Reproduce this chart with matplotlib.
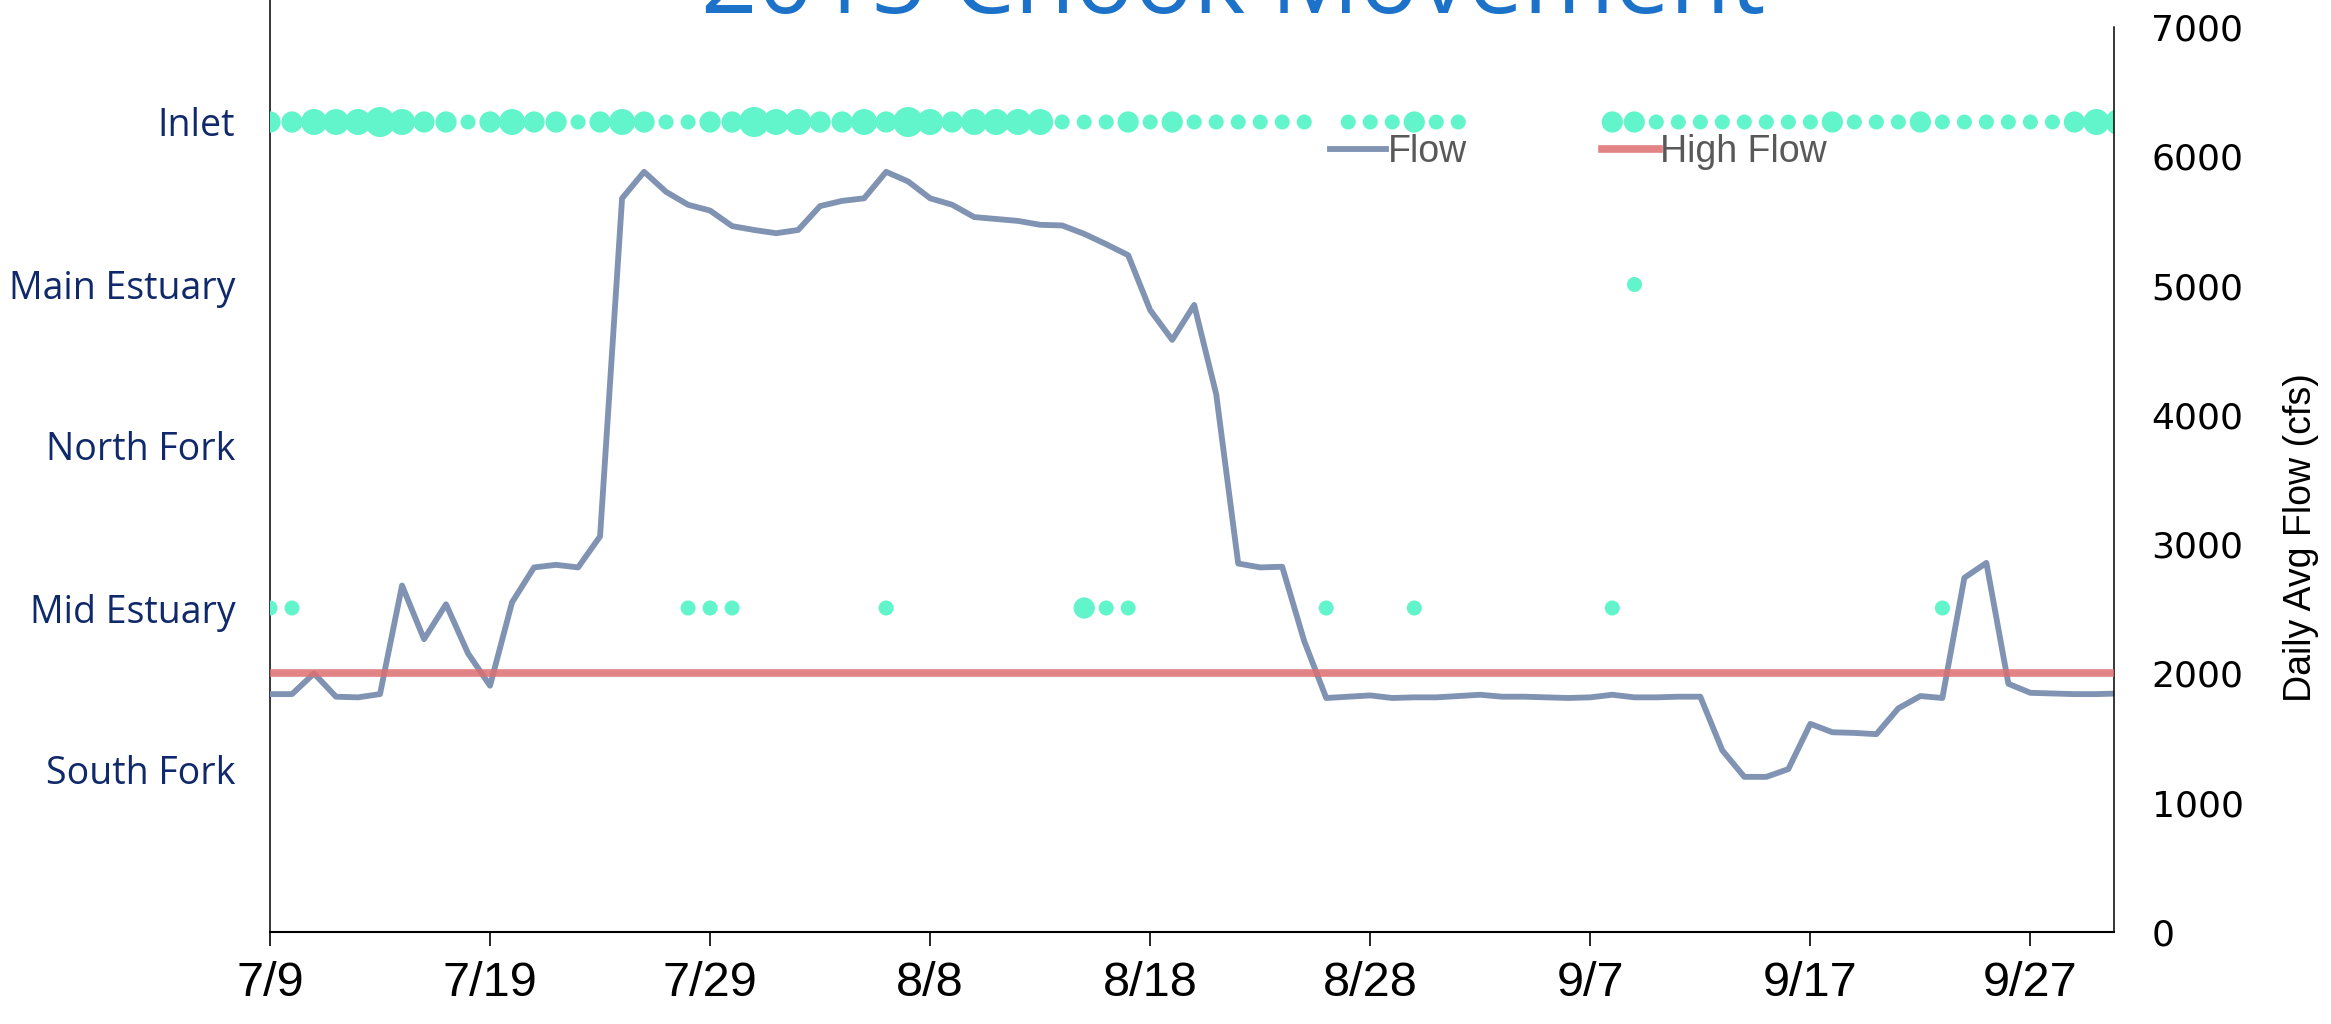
import matplotlib
matplotlib.use("Agg")
from matplotlib import pyplot as plt
import numpy as np

# daily average flow (cfs), one value per day starting 7/9
flow = [1840, 1840, 2000, 1820, 1815, 1840, 2680, 2265, 2535, 2155,
        1905, 2550, 2820, 2840, 2820, 3060, 5675, 5880, 5725, 5625,
        5580, 5460, 5430, 5405, 5430, 5615, 5655, 5675, 5880, 5805,
        5675, 5625, 5530, 5515, 5500, 5470, 5465, 5400, 5320, 5235,
        4810, 4580, 4850, 4160, 2850, 2820, 2825, 2250, 1810, 1820,
        1830, 1810, 1815, 1815, 1825, 1835, 1820, 1820, 1815, 1810,
        1815, 1835, 1815, 1815, 1820, 1820, 1405, 1200, 1200, 1260,
        1610, 1545, 1540, 1530, 1730, 1825, 1810, 2740, 2855, 1920,
        1850, 1845, 1840, 1840, 1845]
high_flow = 2000

# fish detected per day at each location
inlet_counts = [2, 2, 3, 3, 3, 4, 3, 2, 2, 1,
                2, 3, 2, 2, 1, 2, 3, 2, 1, 1,
                2, 2, 4, 3, 3, 2, 2, 3, 2, 4,
                3, 2, 3, 3, 3, 3, 1, 1, 1, 2,
                1, 2, 1, 1, 1, 1, 1, 1, 0, 1,
                1, 1, 2, 1, 1, 0, 0, 0, 0, 0,
                0, 2, 2, 1, 1, 1, 1, 1, 1, 1,
                1, 2, 1, 1, 1, 2, 1, 1, 1, 1,
                1, 1, 2, 3, 3]
main_days = [62]
main_counts = [1]
mid_days = [0, 1, 19, 20, 21, 28, 37, 38, 39, 48, 52, 61, 76]
mid_counts = [1, 1, 1, 1, 1, 1, 2, 1, 1, 1, 1, 1, 1]

locations = ["South Fork", "Mid Estuary", "North Fork", "Main Estuary", "Inlet"]
tick_days = [0, 10, 20, 30, 40, 50, 60, 70, 80]
tick_labels = ["7/9", "7/19", "7/29", "8/8", "8/18", "8/28", "9/7", "9/17", "9/27"]
flow_ticks = [0, 1000, 2000, 3000, 4000, 5000, 6000, 7000]

DOT = "#62F5CC"
S1 = 117  # marker area for one fish

days = np.arange(len(flow))
inlet = np.array(inlet_counts)

fig = plt.figure(figsize=(23.31, 10.24), dpi=100)
L, B, W = 270 / 2331, 92 / 1024, 1844 / 2331
ax = fig.add_axes([L, B, W, 972 / 1024])
ax2 = fig.add_axes([L, B, W, 905 / 1024], sharex=ax)
ax2.patch.set_visible(False)

# locations (left axis)
m = inlet > 0
ax.scatter(days[m], np.full(m.sum(), 5), s=inlet[m] * S1, color=DOT, linewidths=0, zorder=3)
ax.scatter(main_days, [4] * len(main_days), s=np.array(main_counts) * S1, color=DOT, linewidths=0, zorder=3)
ax.scatter(mid_days, [2] * len(mid_days), s=np.array(mid_counts) * S1, color=DOT, linewidths=0, zorder=3)

ax.set_ylim(0, 6)
ax.set_xlim(0, 83.8)
ax.set_yticks([1, 2, 3, 4, 5])
ax.set_yticklabels(locations, family="Open Sans", fontsize=27, color="#10296B")
ax.set_xticks(tick_days)
ax.set_xticklabels(tick_labels, family="Liberation Sans", fontsize=35)
ax.tick_params(axis="y", length=0, pad=25)
ax.tick_params(axis="x", length=10, width=1.2, pad=11, direction="out")
ax.spines["top"].set_visible(False)
ax.spines["right"].set_visible(False)
ax.spines["left"].set_linewidth(1.1)
ax.spines["bottom"].set_linewidth(1.5)

# flow (right axis)
l1, = ax2.plot(days, flow, color="#8093B3", linewidth=4.2, label="Flow", zorder=2)
l2 = ax2.axhline(high_flow, color="#DD6E70", alpha=0.85, linewidth=5.5, label="High Flow", zorder=3)
ax2.set_ylim(0, 7000)
ax2.set_yticks(flow_ticks)
ax2.set_yticklabels([str(v) for v in flow_ticks], family="DejaVu Sans", fontsize=26)
ax2.yaxis.tick_right()
ax2.tick_params(axis="y", length=0, pad=27)
ax2.tick_params(axis="x", which="both", bottom=False, labelbottom=False)
for s in ["top", "left", "bottom"]:
    ax2.spines[s].set_visible(False)
ax2.spines["right"].set_linewidth(1.1)

fig.text(0.987, 0.475, "Daily Avg Flow (cfs)", rotation=90, ha="center", va="center",
         family="Liberation Sans", fontsize=27)

fig.legend([l1, l2], ["Flow", "High Flow"], loc="center left", bbox_to_anchor=(1330 / 2331, 0.8516),
           ncol=2, frameon=False, handlelength=1.5, handletextpad=0.05, columnspacing=3.6,
           borderpad=0, borderaxespad=0, labelcolor="#595959",
           prop={"family": "Liberation Sans", "size": 27})

fig.text(0.529, 1 - 13 / 1024, "2015 Chook Movement", ha="center", va="baseline",
         family="Open Sans", fontsize=71, color="#1C72C9")

fig.savefig("out.png", dpi=100)
